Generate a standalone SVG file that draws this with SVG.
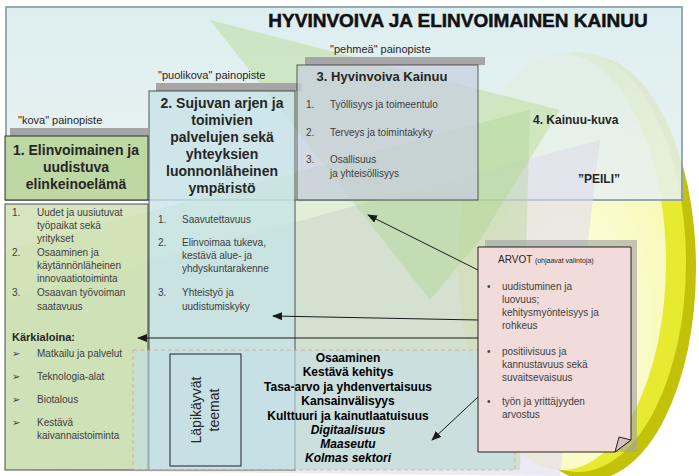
<svg xmlns="http://www.w3.org/2000/svg" width="699" height="476" viewBox="0 0 699 476">
<defs>
<style>
text{font-family:"Liberation Sans",Arial,sans-serif;fill:#262626}
.h{font-weight:bold;font-size:14px;text-anchor:middle}
.s{font-size:11px}
.l{font-size:10px;fill:#404040}
.t{font-weight:bold;font-size:12px;text-anchor:middle;fill:#000}
.c{stroke:#1a1a1a;stroke-width:1;fill:none;marker-end:url(#a)}
</style>
<marker id="a" markerWidth="10" markerHeight="8" refX="9" refY="4" orient="auto" markerUnits="userSpaceOnUse"><path d="M0,0L10,4L0,8z" fill="#1a1a1a"/></marker>
<linearGradient id="bg" x1="0" y1="0" x2="0" y2="1"><stop offset="0" stop-color="#d9ecef"/><stop offset="1" stop-color="#e9f2f0"/></linearGradient>
<radialGradient id="yl" cx="0.55" cy="0.65" r="0.6"><stop offset="0" stop-color="#ffffe8"/><stop offset="1" stop-color="#f6f8b0"/></radialGradient>
</defs>
<rect width="699" height="476" fill="#fff"/>
<g id="background">
<ellipse cx="590" cy="268" rx="106" ry="212" fill="#c2c20a"/>
<ellipse cx="578" cy="262" rx="108" ry="210" fill="#e6ea30"/>
<ellipse cx="562" cy="262" rx="104" ry="208" fill="url(#yl)"/>
<rect x="6" y="7" width="676" height="193" fill="url(#bg)" stroke="#8aa0a8" stroke-width="2" opacity="0.88"/>
<polygon points="5,470 5,300 600,140 560,476" fill="#e0dcec" opacity="0.6"/>
<polygon points="210,20 560,110 480,240 430,300" fill="#b5d98f" opacity="0.45"/>
<polygon points="5,470 5,250 530,110 520,470" fill="#a9d18e" opacity="0.35"/>
</g>
<g id="title"><text x="458" y="27" font-size="19" font-weight="bold" text-anchor="middle" style="fill:#111" stroke="#111" stroke-width="0.5">HYVINVOIVA  JA ELINVOIMAINEN  KAINUU</text></g>
<g id="col1">
<rect x="10" y="128" width="138" height="9" fill="#a6a6a6"/>
<text x="18" y="124" class="s">"kova" painopiste</text>
<rect x="5" y="136" width="143" height="64" fill="#b9d69a" stroke="#222" opacity="0.9"/>
<text x="76" y="155" class="h">1. Elinvoimainen ja</text>
<text x="76" y="172" class="h">uudistuva</text>
<text x="76" y="189" class="h">elinkeinoelämä</text>
<rect x="5" y="204" width="143" height="266" fill="#cfe1b1" stroke="#222" opacity="0.8"/>
<text x="12" y="216" class="l">1.</text><text x="37" y="216" class="l">Uudet ja uusiutuvat</text><text x="37" y="229" class="l">työpaikat sekä</text><text x="37" y="242" class="l">yritykset</text>
<text x="12" y="256" class="l">2.</text><text x="37" y="256" class="l">Osaaminen ja</text><text x="37" y="269" class="l">käytännönläheinen</text><text x="37" y="282" class="l">innovaatiotoiminta</text>
<text x="12" y="296" class="l">3.</text><text x="37" y="296" class="l">Osaavan työvoiman</text><text x="37" y="310" class="l">saatavuus</text>
<text x="12" y="341" font-size="11" font-weight="bold">Kärkialoina:</text>
<text x="12" y="357" class="l">➢</text><text x="37" y="357" class="l">Matkailu ja palvelut</text>
<text x="12" y="380" class="l">➢</text><text x="37" y="380" class="l">Teknologia-alat</text>
<text x="12" y="403" class="l">➢</text><text x="37" y="403" class="l">Biotalous</text>
<text x="12" y="426" class="l">➢</text><text x="37" y="426" class="l">Kestävä</text><text x="37" y="439" class="l">kaivannaistoiminta</text>
</g>
<g id="col2">
<rect x="156" y="83" width="146" height="8" fill="#a6a6a6"/>
<text x="158" y="79" class="s">"puolikova" painopiste</text>
<rect x="149" y="91" width="146" height="379" fill="#c6e3e8" stroke="#222" opacity="0.75"/>
<text x="222" y="108" class="h">2. Sujuvan arjen ja</text>
<text x="222" y="125" class="h">toimivien</text>
<text x="222" y="142" class="h">palvelujen sekä</text>
<text x="222" y="159" class="h">yhteyksien</text>
<text x="222" y="176" class="h">luonnonläheinen</text>
<text x="222" y="193" class="h">ympäristö</text>
<text x="158" y="223" class="l">1.</text><text x="182" y="223" class="l">Saavutettavuus</text>
<text x="158" y="246" class="l">2.</text><text x="182" y="246" class="l">Elinvoimaa tukeva,</text><text x="182" y="259" class="l">kestävä alue- ja</text><text x="182" y="272" class="l">yhdyskuntarakenne</text>
<text x="158" y="296" class="l">3.</text><text x="182" y="296" class="l">Yhteistyö ja</text><text x="182" y="310" class="l">uudistumiskyky</text>
</g>
<g id="col3">
<rect x="305" y="57" width="180" height="8" fill="#a6a6a6"/>
<text x="330" y="53" class="s">"pehmeä" painopiste</text>
<rect x="297" y="65" width="181" height="135" fill="#c9cfe0" stroke="#222" opacity="0.7"/>
<text x="382" y="81" class="h" style="font-size:13px">3. Hyvinvoiva Kainuu</text>
<text x="306" y="108" class="l">1.</text><text x="330" y="108" class="l">Työllisyys ja toimeentulo</text>
<text x="306" y="136" class="l">2.</text><text x="330" y="136" class="l">Terveys ja toimintakyky</text>
<text x="306" y="163" class="l">3.</text><text x="330" y="163" class="l">Osallisuus</text><text x="330" y="177" class="l">ja yhteisöllisyys</text>
</g>
<g id="col4">
<text x="533" y="124" font-size="12" font-weight="bold">4. Kainuu-kuva</text>
<text x="578" y="183" font-size="12" font-weight="bold">”PEILI”</text>
</g>
<g id="themes">
<rect x="133" y="350" width="382" height="120" fill="#c5dfe8" opacity="0.6" stroke="#d99a6c" stroke-dasharray="4,3"/>
<rect x="170" y="354" width="71" height="112" fill="none" stroke="#222"/>
<text transform="translate(205,410) rotate(-90)" font-size="14" text-anchor="middle"><tspan x="0" y="-4">Läpikäyvät</tspan><tspan x="0" y="14">teemat</tspan></text>
<text x="348" y="362" class="t">Osaaminen</text>
<text x="348" y="376" class="t">Kestävä kehitys</text>
<text x="348" y="391" class="t">Tasa-arvo ja yhdenvertaisuus</text>
<text x="348" y="405" class="t">Kansainvälisyys</text>
<text x="348" y="420" class="t">Kulttuuri ja kainutlaatuisuus</text>
<text x="348" y="434" class="t" font-style="italic">Digitaalisuus</text>
<text x="348" y="448" class="t" font-style="italic">Maaseutu</text>
<text x="348" y="462" class="t" font-style="italic">Kolmas sektori</text>
</g>
<g id="arvot">
<rect x="485" y="240" width="152" height="212" fill="#a0a0a0" opacity="0.6"/>
<path d="M478,247H631V440L615,452H478Z" fill="#f2dcdb" stroke="#222"/>
<path d="M615,452L619,437L631,440Z" fill="#d8bfbe" stroke="#222"/>
<text x="498" y="263" font-size="10">ARVOT <tspan font-size="7">(ohjaavat valintoja)</tspan></text>
<text x="487" y="290" class="l">•</text><text x="502" y="290" class="l">uudistuminen ja</text><text x="502" y="303" class="l">luovuus;</text><text x="502" y="316" class="l">kehitysmyönteisyys ja</text><text x="502" y="329" class="l">rohkeus</text>
<text x="487" y="355" class="l">•</text><text x="502" y="355" class="l">positiivisuus ja</text><text x="502" y="368" class="l">kannustavuus sekä</text><text x="502" y="381" class="l">suvaitsevaisuus</text>
<text x="487" y="405" class="l">•</text><text x="502" y="405" class="l">työn ja yrittäjyyden</text><text x="502" y="418" class="l">arvostus</text>
</g>
<g id="connectors">
<path class="c" d="M478,270L368,215"/>
<path class="c" d="M478,320L273,316"/>
<path class="c" d="M478,338L138,338"/>
<path class="c" d="M478,397L432,440"/>
</g>
</svg>
